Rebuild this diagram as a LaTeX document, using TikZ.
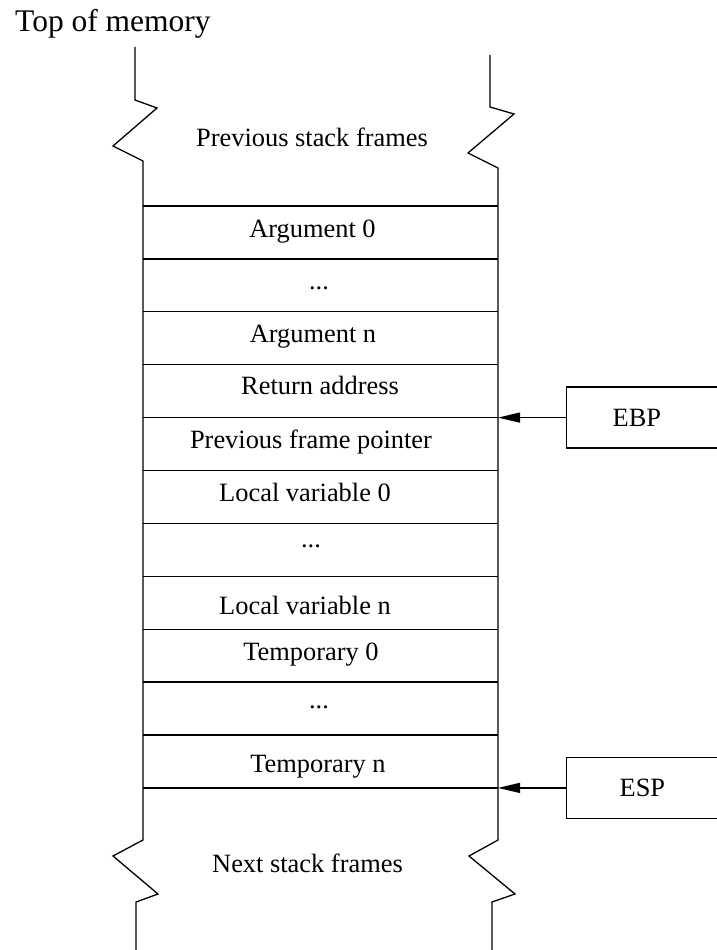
\documentclass[tikz,border=0pt]{standalone}
\usepackage{fontspec}
\setmainfont{Liberation Serif}
\usetikzlibrary{arrows.meta}
\newcommand{\stackdots}{...}
\tikzset{
	wall/.style={line width=1.3pt},
	celltext/.style={anchor=base, inner sep=0pt, font=\fontsize{26.4}{30}\selectfont},
	ptrbox/.style={draw, line width=1.3pt, anchor=west, minimum height=61pt, text width=100pt, align=left, font=\fontsize{26.4}{30}\selectfont},
	ptrarrow/.style={line width=1.3pt, -{Triangle[length=22pt,width=10pt]}}
}
\begin{document}
\begin{tikzpicture}[x=1pt,y=-1pt]
		\useasboundingbox (0,0) rectangle (717,950);
		% title
		\node[celltext, anchor=base west, font=\fontsize{31.5}{36}\selectfont] (top) at (15,32) {Top of memory};
		% stack walls
		\draw[wall] (135,47) -- (135,100) -- (157,108) -- (113,146) -- (143,161)
			-- (143,840) -- (113,856) -- (158,894) -- (136,902) -- (136,955);
		\draw[wall] (490,55) -- (490,107) -- (514,114) -- (468,153) -- (498,168)
			-- (498,840) -- (469,856) -- (515,894) -- (492,902) -- (492,955);
		% cell borders
		\foreach \i in {0,...,11}
			\draw[wall] (143,206+52.9*\i) coordinate (l\i) -- (498,206+52.9*\i) coordinate (r\i);
		% cell texts
		\foreach \x/\y/\t [count=\n] in {312.5/237/Argument 0, 319/289/\stackdots, 313/342/Argument n,
				320/394/Return address, 311/448/Previous frame pointer, 305/501/Local variable 0,
				311/547/\stackdots, 305/614/Local variable n, 311/660/Temporary 0,
				319/708/\stackdots, 318/772/Temporary n}
			\node[celltext] (t\n) at (\x,\y) {\t};
		% frames outside
		\node[celltext] (prev) at (312,146) {Previous stack frames};
		\node[celltext] (next) at (307.5,872) {Next stack frames};
		% registers
		\node[ptrbox, inner xsep=46pt] (ebp) at ([xshift=68pt]r4) {EBP};
		\node[ptrbox, inner xsep=53pt] (esp) at ([xshift=68pt]r11) {ESP};
		\draw[ptrarrow] (ebp) -- (r4);
		\draw[ptrarrow] (esp) -- (r11);
\end{tikzpicture}
\end{document}
